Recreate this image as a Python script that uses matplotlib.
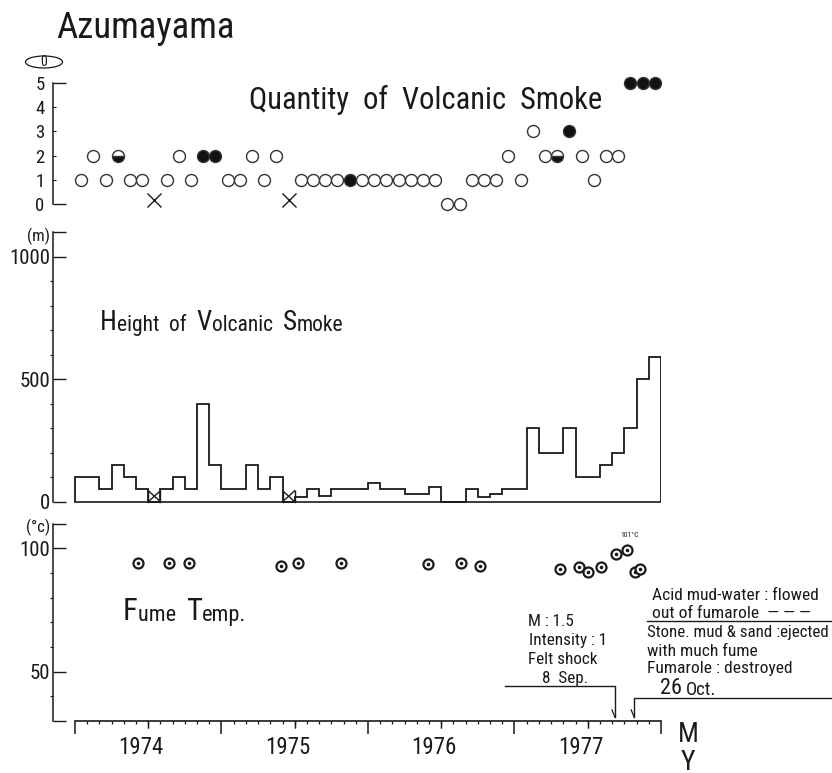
import os
import matplotlib
matplotlib.use("Agg")
import matplotlib.pyplot as plt
from matplotlib import font_manager
from matplotlib.font_manager import FontProperties
from matplotlib.patches import Ellipse
import numpy as np

# ---------------- data ----------------
years = [1974, 1975, 1976, 1977]
year_labels = ["1974", "1975", "1976", "1977"]
n_months = 48  # Jan 1974 .. Dec 1977

# Quantity of volcanic smoke (0..5), one per month; None = no observation
quantity = [1, 2, 1, 2, 1, 1, None, 1, 2, 1, 2, 2,
            1, 1, 2, 1, 2, None, 1, 1, 1, 1, 1, 1,
            1, 1, 1, 1, 1, 1, 0, 0, 1, 1, 1, 2,
            1, 3, 2, 2, 3, 2, 1, 2, 2, 5, 5, 5]
# marker style per month: o = open, h = half filled, f = filled, x = no observation
quantity_style = ("ooohooxoooff"
                  "oooooxoooofo"
                  "oooooooooooo"
                  "ooohfoooofff")

# Height of volcanic smoke (m), monthly maximum; None = no observation
height = [100, 100, 50, 150, 100, 50, None, 50, 100, 50, 400, 150,
          50, 50, 150, 50, 100, None, 20, 50, 25, 50, 50, 50,
          75, 50, 50, 30, 30, 60, 0, 0, 50, 20, 30, 50,
          50, 300, 200, 200, 300, 100, 100, 150, 200, 300, 500, 590]

# Fume temperature (deg C): observation time in months since Jan 1974
temp_month = [5.2, 7.7, 9.3, 16.9, 18.3, 21.8, 28.9, 31.6, 33.2,
              39.7, 41.3, 42.0, 43.1, 44.3, 45.2, 45.9, 46.3]
temp_value = [94, 94, 94, 93, 94, 94, 93.5, 94, 92.8,
              91.5, 92.5, 90.5, 92.5, 97.6, 99.3, 90.3, 91.5]

# events (year, month, day)
event_felt = (1977, 9, 8)
event_erupt = (1977, 10, 26)
felt_lines = ["M : 1.5", "Intensity : 1", "Felt shock", "8  Sep."]
erupt_lines = ["Acid mud-water : flowed", "out of fumarole  — — —",
               "Stone. mud & sand :ejected", "with much fume",
               "Fumarole : destroyed"]

# ---------------- fonts ----------------
def pick_font():
    entries = font_manager.fontManager.ttflist

    def regular(f):
        w = f.weight
        wok = w in (400, "normal", "regular", "book", "Regular", "Book")
        return f.style == "normal" and wok

    def cond_file(f):
        b = os.path.basename(f.fname)
        return (("Condensed" in b or "Narrow" in b) and "Extra" not in b and "Semi" not in b
                and "Bold" not in b and "Italic" not in b and "Light" not in b
                and "Thin" not in b and "Black" not in b and "Medium" not in b)

    by_name = ["Liberation Sans Narrow", "Roboto Condensed", "Arial Narrow"]
    for p in by_name:
        for f in entries:
            if f.name == p and regular(f):
                return f.fname, True
    order = ["Roboto", "Noto Sans", "Open Sans", "DejaVu Sans", "Lato", "Inter"]
    for p in order:
        for f in entries:
            if f.name.startswith(p) and cond_file(f):
                return f.fname, True
    for f in entries:
        if regular(f) and f.stretch in ("condensed",):
            return f.fname, True
    return font_manager.findfont("Liberation Sans"), False


FONT_PATH, IS_NARROW = pick_font()
SCALE = 1.0 if IS_NARROW else 0.85


def FP(size):
    return FontProperties(fname=FONT_PATH, size=size * SCALE)


# ---------------- style ----------------
W, H = 832, 773
ink = "#1a1a1a"
plt.rcParams["font.family"] = ["Liberation Sans", "DejaVu Sans"]
plt.rcParams["text.color"] = ink

fig = plt.figure(figsize=(W / 100, H / 100), dpi=100)
fig.patch.set_facecolor("white")

month_px = 12.21
x_left = -22 / month_px  # spine position (months)


def add_ax(y_top, y_bot):
    x0, x1 = 53, 661
    return fig.add_axes([x0 / W, 1 - y_bot / H, (x1 - x0) / W, (y_bot - y_top) / H])


def style_ax(ax, lo, hi):
    ax.set_xlim(x_left, n_months)
    ax.patch.set_alpha(0)
    for s in ["top", "right", "bottom"]:
        ax.spines[s].set_visible(False)
    ax.spines["left"].set_bounds(lo, hi)
    ax.spines["left"].set_color(ink)
    ax.spines["left"].set_linewidth(1.1)
    ax.set_xticks([])


def date_to_month(d):
    y, m, day = d
    days = [31, 28, 31, 30, 31, 30, 31, 31, 30, 31, 30, 31][m - 1]
    return (y - years[0]) * 12 + (m - 1) + (day - 1) / days


# ---------------- top: quantity ----------------
ax_q = add_ax(70, 215)
ax_q.set_ylim((204 - 215) / 24.2, (204 - 70) / 24.2)
style_ax(ax_q, 0, 5)
ax_q.set_yticks([0, 5], labels=["0", "5"], fontproperties=FP(13.5), color=ink)
ax_q.set_yticks([1, 2, 3, 4], labels=["1", "2", "3", "4"], minor=True,
                fontproperties=FP(13.5), color=ink)
ax_q.tick_params(axis="y", which="major", direction="in", length=9, width=1, color=ink, pad=6)
ax_q.tick_params(axis="y", which="minor", direction="in", length=2.5, width=0.8, color=ink, pad=6)

xc = np.arange(n_months) + 0.5
ms_q = 8.6
for i, (q, st) in enumerate(zip(quantity, quantity_style)):
    if st == "x":
        ax_q.plot(xc[i], 0.15, marker="x", ms=10, mew=1.0, color=ink, clip_on=False)
    elif st == "o":
        ax_q.plot(xc[i], q, marker="o", ms=ms_q, mfc="white", mec="#333333", mew=1.0, clip_on=False)
    elif st == "f":
        ax_q.plot(xc[i], q, marker="o", ms=ms_q, mfc="#111111", mec="#333333", mew=1.0, clip_on=False)
    elif st == "h":
        ax_q.plot(xc[i], q, marker="o", ms=ms_q, fillstyle="bottom", mfc="#111111",
                  mfcalt="white", mec="#333333", mew=1.0, clip_on=False)

# ---------------- middle: height ----------------
ax_h = add_ax(228, 510)
ax_h.set_ylim((501.7 - 510) / 0.2448, (501.7 - 228) / 0.2448)
style_ax(ax_h, 0, 1100)
ax_h.set_yticks([0, 500, 1000, 1100], labels=["0", "500", "1000", ""],
                fontproperties=FP(15), color=ink)
ax_h.set_yticks(np.arange(100, 1100, 100), minor=True)
ax_h.tick_params(axis="y", which="major", direction="in", length=9, width=1, color=ink, pad=2)
ax_h.tick_params(axis="y", which="minor", direction="out", length=2, width=0.8, color=ink)

edges = np.arange(n_months + 1)
h_vals = np.array([0 if v is None else v for v in height], dtype=float)
ax_h.stairs(h_vals, edges, baseline=0, fill=False, color=ink, lw=1.3)
ax_h.plot([edges[0], edges[-1]], [0, 0], color=ink, lw=1.2)
x_mark_h = 45  # height of the "no observation" bow-tie symbol
for i, v in enumerate(height):
    if v is None:
        ax_h.plot([i, i + 1], [x_mark_h, 0], color=ink, lw=1.0)
        ax_h.plot([i, i + 1], [0, x_mark_h], color=ink, lw=1.0)
        ax_h.plot([i, i], [0, x_mark_h], color=ink, lw=1.0)
        ax_h.plot([i + 1, i + 1], [0, x_mark_h], color=ink, lw=1.0)

# ---------------- bottom: temperature + time axis ----------------
ax_t = add_ax(520, 721)
ax_t.set_ylim(30, 100 + (548.3 - 520) / 2.468)
style_ax(ax_t, 30, 110)
ax_t.set_yticks([30, 50, 100, 110], labels=["", "50", "100", ""],
                fontproperties=FP(15), color=ink)
ax_t.set_yticks([40, 60, 70, 80, 90], minor=True)
ax_t.tick_params(axis="y", which="major", direction="in", length=9, width=1, color=ink, pad=2)
ax_t.tick_params(axis="y", which="minor", direction="out", length=2, width=0.8, color=ink)

ax_t.plot(temp_month, temp_value, ls="none", marker="o", ms=7.2, mfc="white", mec=ink,
          mew=1.6, clip_on=False)
ax_t.plot(temp_month, temp_value, ls="none", marker="o", ms=1.6, mfc=ink, mec=ink, clip_on=False)

# time axis (bottom spine)
ax_t.spines["bottom"].set_visible(True)
ax_t.spines["bottom"].set_bounds(0, n_months)
ax_t.spines["bottom"].set_color(ink)
ax_t.spines["bottom"].set_linewidth(1.2)
ax_t.set_xticks([0, 12, 24, 36, 48], labels=[""] * 5)
ax_t.set_xticks([m for m in range(n_months + 1) if m % 12 != 0], minor=True)
ax_t.tick_params(axis="x", which="major", direction="out", length=9.5, width=1.1, color=ink)
ax_t.tick_params(axis="x", which="minor", direction="out", length=2.5, width=0.9, color=ink)
for k in range(len(years)):
    ax_t.plot([12 * k + 6, 12 * k + 6], [30, 30], marker=3, ms=5, mew=0.9, color=ink,
              clip_on=False)
for k, lab in enumerate(year_labels):
    ax_t.annotate(lab, xy=(12 * k + 5.4, 0), xycoords=("data", "axes fraction"),
                  xytext=(0, -27), textcoords="offset pixels", ha="center", va="center",
                  fontproperties=FP(16.5), annotation_clip=False)

# event markers
m_felt = date_to_month(event_felt)
m_erupt = date_to_month(event_erupt)
y_felt = 100 - (686 - 548.3) / 2.468
y_erupt = 100 - (698.5 - 548.3) / 2.468
ax_t.plot([m_felt - 9, m_felt, m_felt], [y_felt, y_felt, 31.5], color=ink, lw=1.0, clip_on=False)
ax_t.plot([m_erupt, m_erupt, m_erupt + 16.2], [31.5, y_erupt, y_erupt], color=ink, lw=1.0,
          clip_on=False)
for mm in (m_felt, m_erupt):
    ax_t.plot([mm, mm - 0.25], [31.5, 34.5], color=ink, lw=0.9, clip_on=False)

# ---------------- text overlay (pixel coordinates) ----------------
axo = fig.add_axes([0, 0, 1, 1])
axo.set_xlim(0, W)
axo.set_ylim(H, 0)
axo.axis("off")

axo.text(56, 28, "Azumayama", ha="left", va="center", fontproperties=FP(26.5))
axo.add_patch(Ellipse((44, 62), 37, 12, fill=False, ec=ink, lw=0.9))
axo.text(44, 62, "0", ha="center", va="center", fontproperties=FP(10))
axo.text(39, 236, "(m)", ha="center", va="center", fontproperties=FP(12))
axo.text(38, 527, "(°c)", ha="center", va="center", fontproperties=FP(12))

axo.text(249, 100, "Quantity  of  Volcanic  Smoke", ha="left", va="center",
         fontproperties=FP(22))


def chain(x, y, parts):
    t = None
    for s, fs in parts:
        if t is None:
            t = axo.text(x, y, s, ha="left", va="baseline", fontproperties=FP(fs))
        else:
            t = axo.annotate(s, xy=(1, 0), xycoords=t, ha="left", va="bottom",
                             fontproperties=FP(fs))
    return t


chain(100, 330, [("H", 19.5), ("eight  ", 15.5), ("of  ", 15.5), ("V", 19.5),
                 ("olcanic  ", 15.5), ("S", 19.5), ("moke", 15.5)])
chain(123, 620, [("F", 22), ("ume  ", 16), ("T", 22), ("emp.", 16)])

axo.text(630, 535, "101°C", ha="center", va="center", fontproperties=FP(5.5))

felt_x = [528, 529, 528, 542]
felt_y = [622, 640, 660, 678]
for s, x, y in zip(felt_lines, felt_x, felt_y):
    axo.text(x, y, s, ha="left", va="center", fontproperties=FP(12.3))

erupt_x = [652, 652, 647, 647, 647]
erupt_y = [595, 613, 633, 651, 669]
erupt_fs = [12.6, 12.6, 12.2, 12.6, 12.6]
for s, x, y, fs in zip(erupt_lines, erupt_x, erupt_y, erupt_fs):
    axo.text(x, y, s, ha="left", va="center", fontproperties=FP(fs))
axo.plot([647, 832], [621, 621], color=ink, lw=1.0)
axo.text(660, 689, "26", ha="left", va="center", fontproperties=FP(16))
axo.text(686, 690, "Oct.", ha="left", va="center", fontproperties=FP(13.5))

axo.text(688, 735, "M", ha="center", va="center", fontproperties=FP(20))
axo.text(688, 762, "Y", ha="center", va="center", fontproperties=FP(20))

fig.savefig("out.png", dpi=100, facecolor="white")
